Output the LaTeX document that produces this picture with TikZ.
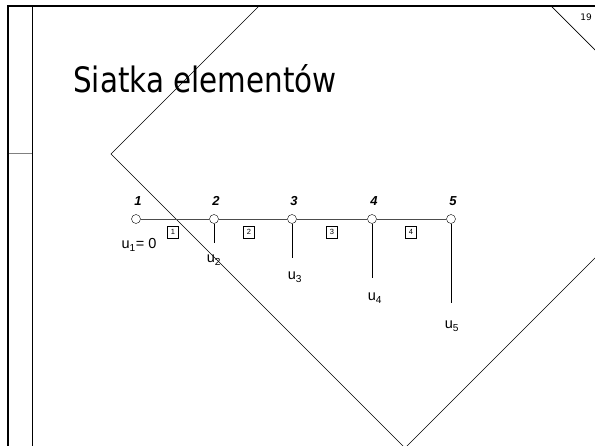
\documentclass[tikz,border=0pt]{standalone}
\usepackage{fontspec}
\setmainfont{Liberation Sans}
\newfontfamily\titlefont[FakeStretch=0.84]{DejaVu Sans}
\newfontfamily\pagefont{DejaVu Sans}
\usetikzlibrary{positioning}

\tikzset{
  meshnode/.style={circle,draw,fill=white,minimum size=9pt,inner sep=0pt},
  nodenum/.style={font=\fontsize{13}{13}\selectfont\bfseries\itshape},
  elembox/.style={draw,inner sep=0pt,minimum width=11pt,minimum height=12pt,font=\fontsize{7.5}{7.5}\selectfont},
  ulabel/.style={font=\fontsize{14.5}{14.5}\selectfont,inner sep=0pt}
}

\begin{document}
\begin{tikzpicture}[x=1pt,y=-1pt]
  \useasboundingbox (0,0) rectangle (595,446);
  % slide frame
  \draw (32,6) -- (32,446);
  \draw[gray] (8,153) -- (32,153);
  \begin{scope}
    \clip (8,6) rectangle (595,446);
    \draw[line width=0.7pt] (111,154) -- (405,-140) -- (699,154) -- (405,448) -- cycle;
  \end{scope}
  \draw[line width=2pt] (8,446) -- (8,6) -- (595,6);
  \node[font=\pagefont\fontsize{9}{9}\selectfont] (pagenum) at (586,17) {19};

  \node[anchor=base west,font=\titlefont\fontsize{35}{35}\selectfont,inner sep=0pt] (title) at (73,93) {Siatka elementów};

  % mesh
  \foreach \i/\x in {1/136,2/214,3/292,4/372,5/451}
    \node[meshnode] (n\i) at (\x,219) {};
  \draw[gray!60!black,line width=0.9pt] (n1) -- (n2) (n2) -- (n3) (n3) -- (n4) (n4) -- (n5);
  \foreach \i in {1,...,5}
    \node[nodenum] (num\i) at ([xshift=2pt,yshift=18pt]n\i) {\i};

  \foreach \i/\x in {1/173,2/249,3/332,4/411}
    \node[elembox] (e\i) at (\x,232) {\i};

  % displacements
  \coordinate (d2) at (214,243);
  \coordinate (d3) at (292,258);
  \coordinate (d4) at (372,278);
  \coordinate (d5) at (451,303);
  \foreach \i in {2,...,5}
    \draw[line width=0.9pt] (n\i.south) -- (d\i);
  \node[ulabel] (u1) at (139,245) {u\textsubscript{1}= 0};
  \node[ulabel,below=12pt of d2] (u2) {u\textsubscript{2}};
  \node[ulabel,below=14pt of d3,xshift=3pt] (u3) {u\textsubscript{3}};
  \node[ulabel,below=15pt of d4,xshift=3pt] (u4) {u\textsubscript{4}};
  \node[ulabel,below=18pt of d5,xshift=1pt] (u5) {u\textsubscript{5}};
\end{tikzpicture}
\end{document}
